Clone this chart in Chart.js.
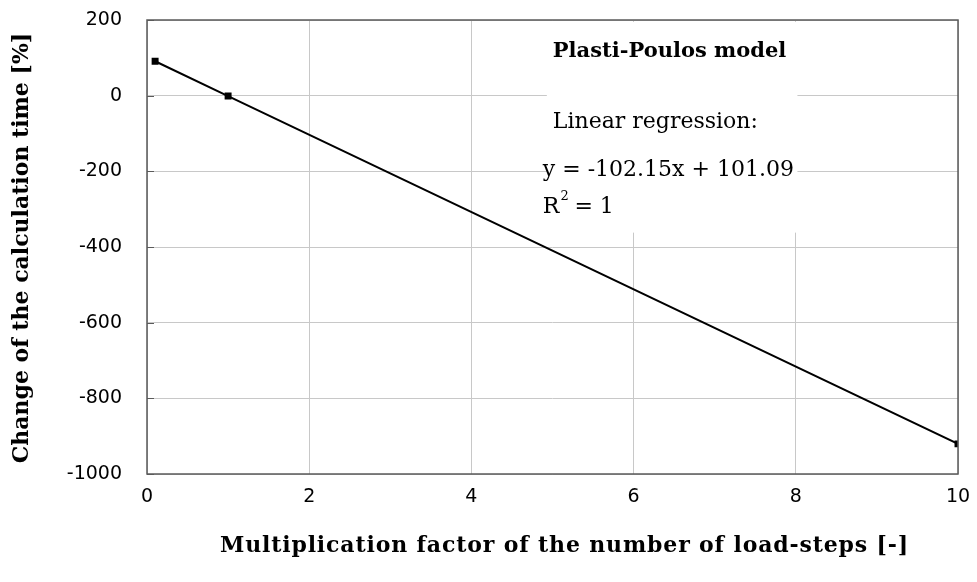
<!DOCTYPE html>
<html>
<head>
<meta charset="utf-8">
<script src="https://cdn.jsdelivr.net/npm/chart.js@4"></script>
<style>
  html, body { margin: 0; padding: 0; background: #fff; }
  #wrap { width: 977px; height: 582px; }
</style>
</head>
<body>
<div id="wrap"><canvas id="chart"></canvas></div>
<script>
// Multiplication factor of load-steps and resulting change of calculation time
const loadFactor = [0.1, 1, 10];
const timeChange = [90.9, -1.1, -920.4];

const xTickValues = [0, 2, 4, 6, 8, 10];
const yTickValues = [200, 0, -200, -400, -600, -800, -1000];

const xTitle = 'Multiplication factor of the number of load-steps [-]';
const yTitle = 'Change of the calculation time [%]';
const modelName = 'Plasti-Poulos model';
const regressionLines = ['Linear regression:', 'y = -102.15x + 101.09'];

const slabFont = '"DejaVu Serif"';

// White box with the model name and regression equation
const regressionBox = {
    id: 'regressionBox',
    beforeDatasetsDraw(chart) {
        const ctx = chart.ctx;
        const x = chart.scales.x;
        const y = chart.scales.y;
        const left = x.getPixelForValue(4.93);
        const right = x.getPixelForValue(8.02);
        const top = y.getPixelForValue(195);
        const bottom = y.getPixelForValue(-362);

        ctx.save();
        ctx.fillStyle = '#fff';
        ctx.fillRect(left, top, right - left, bottom - top);

        ctx.fillStyle = '#000';
        ctx.textBaseline = 'middle';
        ctx.textAlign = 'left';
        ctx.font = 'bold 21px ' + slabFont;
        ctx.fillText(modelName, left + 6, top + 30);

        ctx.font = '22px ' + slabFont;
        ctx.fillText(regressionLines[0], left + 6, top + 100);
        ctx.fillText(regressionLines[1], left - 4, top + 148);

        // R² with a raised exponent
        const rx = left - 4;
        const ry = top + 185;
        ctx.fillText('R', rx, ry);
        const rw = ctx.measureText('R').width;
        ctx.font = '13px ' + slabFont;
        ctx.fillText('2', rx + rw + 1, ry - 10);
        ctx.font = '22px ' + slabFont;
        ctx.fillText(' = 1', rx + rw + 8, ry);
        ctx.restore();
    }
};

// Plot frame, inner ticks on the value axis and both axis titles
const plotFrame = {
    id: 'plotFrame',
    afterDatasetsDraw(chart) {
        const a = chart.chartArea;
        const ctx = chart.ctx;
        const y = chart.scales.y;
        ctx.save();
        ctx.strokeStyle = '#5a5a5a';
        ctx.lineWidth = 1.5;
        ctx.strokeRect(a.left, a.top, a.right - a.left, a.bottom - a.top);

        ctx.beginPath();
        yTickValues.forEach(v => {
            const py = Math.round(y.getPixelForValue(v)) + 0.5;
            ctx.moveTo(a.left, py);
            ctx.lineTo(a.left + 7, py);
        });
        ctx.lineWidth = 1;
        ctx.stroke();

        ctx.fillStyle = '#000';
        ctx.font = 'bold 22px ' + slabFont;
        ctx.textAlign = 'center';
        ctx.textBaseline = 'middle';
        ctx.letterSpacing = '0.85px';
        ctx.fillText(xTitle, (a.left + a.right) / 2 + 12, 546);

        ctx.letterSpacing = '0px';
        ctx.translate(22, 248);
        ctx.rotate(-Math.PI / 2);
        ctx.fillText(yTitle, 0, 0);
        ctx.restore();
    }
};

const ctx = document.getElementById('chart').getContext('2d');
new Chart(ctx, {
    type: 'scatter',
    data: {
        datasets: [{
            data: loadFactor.map((f, i) => ({ x: f, y: timeChange[i] })),
            showLine: true,
            borderColor: '#000',
            backgroundColor: '#000',
            borderWidth: 2,
            pointStyle: 'rect',
            pointRadius: 3.5,
            pointHoverRadius: 3.5
        }]
    },
    plugins: [regressionBox, plotFrame],
    options: {
        responsive: true,
        maintainAspectRatio: false,
        animation: false,
        layout: { padding: { top: 20, right: 19, left: 0, bottom: 0 } },
        plugins: {
            legend: { display: false },
            tooltip: { enabled: false }
        },
        scales: {
            x: {
                type: 'linear',
                min: 0,
                max: 10,
                afterBuildTicks(axis) { axis.ticks = xTickValues.map(v => ({ value: v })); },
                afterFit(axis) {
                    axis.height = 108;
                    axis.paddingLeft = 0;
                    axis.paddingRight = 0;
                },
                grid: { color: '#c8c8c8', lineWidth: 1, drawTicks: false },
                border: { display: false },
                ticks: {
                    padding: 12,
                    color: '#000',
                    font: { family: 'DejaVu Sans', size: 19 },
                    callback: v => String(v)
                }
            },
            y: {
                type: 'linear',
                min: -1000,
                max: 200,
                afterBuildTicks(axis) { axis.ticks = yTickValues.map(v => ({ value: v })); },
                afterFit(axis) {
                    axis.width = 147;
                    axis.paddingTop = 0;
                    axis.paddingBottom = 0;
                },
                grid: { color: '#c8c8c8', lineWidth: 1, drawTicks: false },
                border: { display: false },
                ticks: {
                    padding: 25,
                    color: '#000',
                    font: { family: 'DejaVu Sans', size: 19 },
                    callback: v => String(v)
                }
            }
        }
    }
});
</script>
</body>
</html>
